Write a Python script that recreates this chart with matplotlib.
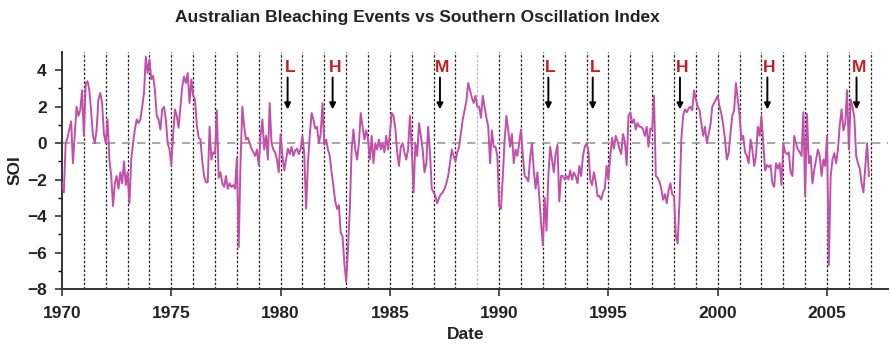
import numpy as np
import matplotlib
matplotlib.use("Agg")
import matplotlib.pyplot as plt

plt.rcParams['font.family'] = ['Liberation Sans', 'DejaVu Sans']
plt.rcParams['font.weight'] = 'bold'

# monthly SOI, Jan 1970 - Dec 2006
soi_1970s = [
    -2.2, -2.7, 0.0, 0.3, 0.75, 1.2, -1.1, 0.5, 2.0, 1.5, 1.8, 2.9,      # 1970
    0.4, 3.3, 3.4, 2.9, 1.7, 0.4, 0.0, 0.75, 2.4, 2.75, 2.2, 0.5,         # 1971
    0.0, 1.3, -0.9, -1.8, -3.45, -2.2, -1.8, -2.5, -1.6, -2.2, -1.0, -2.3,  # 1972
    -1.6, -3.3, -0.9, 0.0, 0.75, 1.3, 1.1, 1.3, 2.0, 2.75, 4.75, 3.85,    # 1973
    4.6, 3.5, 3.7, 2.9, 1.5, 1.3, 0.75, 1.85, 2.0, 1.3, 0.0, -0.35,       # 1974
    -1.2, 0.5, 1.85, 1.5, 0.85, 2.0, 3.1, 3.65, 3.3, 3.85, 2.2, 3.5,      # 1975
    2.6, 2.4, 1.0, 0.3, 0.2, -1.0, -1.8, -2.15, -2.15, 0.9, -0.9, -0.5,   # 1976
    -0.6, 1.8, -1.9, -1.6, -2.2, -2.4, -1.8, -2.5, -2.2, -2.4, -2.3, -2.5,  # 1977
    -0.8, -5.7, -1.0, 2.0, 0.9, 0.2, 0.3, 0.0, -0.3, -0.5, -0.7, -0.35,   # 1978
    -1.2, 0.4, 1.3, -0.35, 0.4, -0.9, 2.2, 0.0, -0.35, -0.5, -0.9, -1.6,  # 1979
]
soi_1980s = [
    0.5, -0.7, -1.5, -0.9, -0.3, -0.6, -0.2, -0.7, -0.4, -0.3, -0.6, -0.3,  # 1980
    0.4, -0.6, -3.6, -1.1, 0.4, 1.65, 1.3, 0.8, 0.9, 0.0, 0.5, 2.2,       # 1981
    -0.1, 0.2, -0.35, -0.7, -1.6, -2.35, -3.2, -3.6, -3.4, -4.9, -5.1, -6.6,  # 1982
    -7.6, -5.8, -3.6, -0.35, 0.75, -0.35, -0.9, 0.0, 1.65, 0.9, 0.2, 0.7,  # 1983
    0.2, -0.9, 0.4, -1.1, 0.0, -0.35, 0.2, -0.35, 0.0, -0.5, 0.4, -0.35,  # 1984
    0.5, 1.65, 1.5, 0.8, -0.5, -1.25, -0.2, 0.0, -0.5, -0.9, -0.35, 1.5,  # 1985
    -0.3, -2.7, 0.0, -0.7, 1.1, 0.4, -0.35, -1.6, -1.1, 0.9, -0.5, -2.5,  # 1986
    -2.7, -2.9, -3.3, -3.0, -2.8, -2.7, -2.5, -2.2, -1.8, -1.1, -0.35, -0.7,  # 1987
    -1.0, -0.5, -0.2, 0.55, 1.3, 1.8, 2.3, 3.3, 2.9, 2.5, 2.2, 2.6,       # 1988
    2.0, 2.0, 1.4, 2.6, 2.0, 1.4, 0.9, -1.1, 0.7, -0.2, -0.2, -0.7,       # 1989
]
soi_1990s = [
    -3.45, -3.6, -1.8, 0.2, 1.5, 0.7, -0.2, 0.5, -1.1, -0.35, -0.7, 0.0,  # 1990
    0.75, -0.7, -1.8, -1.9, -2.1, -0.8, 0.0, -1.5, -2.5, -1.6, -2.9, -4.4,  # 1991
    -5.6, -3.0, -4.8, -1.8, -0.2, -0.9, -1.6, -0.6, -0.1, -3.2, -1.8, -1.8,  # 1992
    -2.0, -1.8, -2.0, -1.5, -2.0, -1.6, -1.8, -2.2, -1.25, -1.8, -0.7, -0.2,  # 1993
    0.0, -0.4, -2.0, -2.3, -1.6, -2.1, -2.9, -2.9, -3.1, -2.7, -2.5, -1.25,  # 1994
    -2.0, -0.7, 0.3, -0.3, 0.4, 0.1, -0.3, -0.6, 0.5, 0.1, -1.2, 1.5,     # 1995
    1.7, 1.1, 1.3, 0.75, 1.1, 0.9, 0.9, 0.75, 0.4, 0.9, -0.2, 0.8,        # 1996
    0.75, 2.6, -1.8, -1.9, -2.1, -2.5, -3.1, -2.8, -3.3, -2.6, -2.2, -2.8,  # 1997
    -2.9, -5.1, -5.5, -3.2, 0.2, 1.5, 1.85, 1.7, 1.9, 2.0, 1.8, 2.9,      # 1998
    2.4, 2.0, 1.8, 1.1, 0.4, 0.9, 0.0, 0.5, 1.0, 2.0, 2.2, 2.4,           # 1999
]
soi_2000s = [
    2.6, 2.0, 1.6, 1.0, 0.2, -0.9, -0.55, 0.55, 1.5, 1.8, 3.3, 2.4,       # 2000
    1.5, 0.2, 0.4, -0.5, -0.7, -1.1, 0.2, -0.35, -1.25, -0.7, 0.9, 0.4,   # 2001
    1.5, 0.0, -1.5, -1.2, -1.3, -1.2, -2.2, -2.4, -1.1, -1.4, -1.1, -2.3,  # 2002
    0.0, -0.5, -0.6, -0.5, -1.6, -1.8, 0.4, 0.0, -0.35, -0.5, -0.7, 1.7,  # 2003
    -2.9, 1.6, -1.1, -0.7, -2.2, -1.45, -0.9, -0.35, -0.7, -1.8, -0.9, -1.25,  # 2004
    0.4, -6.7, -1.8, -0.9, -0.55, -1.1, -0.35, 1.0, 1.85, 0.7, 1.1, 2.9,  # 2005
    -0.35, 2.4, 2.0, 1.4, -0.7, -1.1, -1.4, -2.2, -2.7, -1.3, 0.0, -1.8,  # 2006
]
soi = np.array(soi_1970s + soi_1980s + soi_1990s + soi_2000s)
dates = 1970 + np.arange(len(soi)) / 12.0

# bleaching events: year and severity (L = low, M = moderate, H = high)
event_years = [1980.32, 1982.38, 1987.29, 1992.25, 1994.28, 1998.27, 2002.27, 2006.35]
event_labels = ['L', 'H', 'M', 'L', 'L', 'H', 'H', 'M']

fig = plt.figure(figsize=(8.9, 3.46), dpi=100)
ax = fig.add_axes([0.0697, 0.1647, 0.9283, 0.685])

# year grid lines
for yr in range(1971, 2008):
    c = '#bbbbbb' if yr == 1989 else '#222222'
    ax.axvline(yr, color=c, linestyle=(0, (2, 1.5)), linewidth=0.9, zorder=1)

ax.axhline(0, color='#999999', linestyle=(0, (5, 4)), linewidth=1.2, zorder=1)
ax.plot(dates, soi, color='#c24fa9', linewidth=1.4, zorder=3)

for yr, lab in zip(event_years, event_labels):
    ax.annotate('', xy=(yr, 1.85), xytext=(yr, 3.6),
                arrowprops=dict(arrowstyle='-|>', color='black', lw=1.4,
                                mutation_scale=9, shrinkA=0, shrinkB=0),
                zorder=4)
    ax.text(yr + 0.1, 4.15, lab, color='#c81e1e', fontsize=12.5, fontweight='bold',
            ha='center', va='center', zorder=4)

ax.set_xlim(1970, 2007.8)
ax.set_ylim(-8, 5)
ax.set_xticks(range(1970, 2006, 5))
ax.set_yticks(range(-8, 5, 2))
ax.set_yticks(range(-8, 5), minor=True)
ax.set_yticklabels(['\u22128', '\u22126', '\u22124', '\u22122', '0', '2', '4'])
ax.tick_params(axis='both', labelsize=12.5, width=1.2, length=5, color='#333333',
               labelcolor='#222222')
ax.tick_params(axis='y', which='minor', length=3, width=1.0)
ax.tick_params(axis='x', pad=7)
ax.tick_params(axis='y', pad=6)

for s in ['top', 'right']:
    ax.spines[s].set_visible(False)
for s in ['left', 'bottom']:
    ax.spines[s].set_color('#333333')
    ax.spines[s].set_linewidth(1.4)

ax.set_xlabel('Date', fontsize=12.5, fontweight='bold', color='#222222', labelpad=0)
ax.xaxis.set_label_coords(0.488, -0.16)
ax.set_ylabel('SOI', fontsize=12.5, fontweight='bold', color='#222222', labelpad=3)
fig.text(0.469, 0.95, 'Australian Bleaching Events vs Southern Oscillation Index',
         fontsize=12.5, fontweight='bold', ha='center', va='center', color='#222222')

fig.savefig('out.png', dpi=100)
